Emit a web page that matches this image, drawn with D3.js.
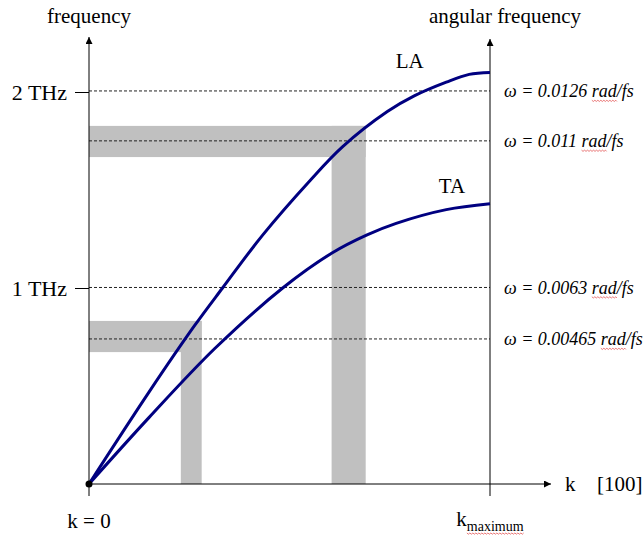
<!DOCTYPE html>
<html lang="en">
<head>
<meta charset="UTF-8">
<title>Phonon dispersion</title>
<script src="https://cdn.jsdelivr.net/npm/d3@7"></script>
<style>
  body { margin: 0; background: #fff; }
</style>
</head>
<body>
<svg id="chart"></svg>
<script>
// k in units of k_maximum, frequency in THz
const kLA = [0, 0.15, 0.264, 0.333, 0.433, 0.552, 0.632, 0.744, 0.811, 0.891, 0.948, 1.0];
const fLA = [0, 0.47, 0.81, 1.0, 1.27, 1.55, 1.72, 1.90, 1.98, 2.05, 2.09, 2.10];
const kTA = [0, 0.15, 0.313, 0.483, 0.607, 0.692, 0.766, 0.891, 1.0];
const fTA = [0, 0.34, 0.69, 1.0, 1.18, 1.27, 1.33, 1.40, 1.43];

const seriesNames = ["LA", "TA"];
const labelK = [0.80, 0.905];
const labelF = [2.16, 1.52];

// angular frequency reference lines (rad/fs)
const omegas = [0.0126, 0.011, 0.0063, 0.00465];
const omegaLabels = ["0.0126", "0.011", "0.0063", "0.00465"];

// left axis ticks
const freqTicks = [1, 2];

// highlighted bands
const bandF = [[0.673, 0.832], [1.668, 1.827]];
const bandK = [[0.229, 0.281], [0.605, 0.690]];

const SERIF = "'Liberation Serif', 'Times New Roman', Tinos, 'DejaVu Serif', serif";
const W = 644, H = 536;
const svg = d3.select("#chart").attr("width", W).attr("height", H)
    .style("font-family", SERIF);

const x = d3.scaleLinear().domain([0, 1]).range([89, 490]);
const y = d3.scaleLinear().domain([0, 2]).range([484, 92]);

const defs = svg.append("defs");
defs.append("marker")
    .attr("id", "arrow")
    .attr("viewBox", "0 0 10 10")
    .attr("refX", 10).attr("refY", 5)
    .attr("markerWidth", 9).attr("markerHeight", 7)
    .attr("markerUnits", "userSpaceOnUse")
    .attr("orient", "auto")
    .append("path")
    .attr("d", "M0,0 L10,5 L0,10 Z")
    .attr("fill", "#000");

// gray bands
bandF.forEach((bf, i) => {
    const bk = bandK[i];
    svg.append("rect")
        .attr("x", x(0)).attr("y", y(bf[1]))
        .attr("width", x(bk[1]) - x(0))
        .attr("height", y(bf[0]) - y(bf[1]))
        .attr("fill", "#c0c0c0");
    svg.append("rect")
        .attr("x", x(bk[0])).attr("y", y(bf[1]))
        .attr("width", x(bk[1]) - x(bk[0]))
        .attr("height", y(0) - y(bf[1]))
        .attr("fill", "#c0c0c0");
});

// dashed reference lines
const omegaF = omegas.map(w => w / (2 * Math.PI) * 1000);
svg.selectAll("line.ref")
    .data(omegaF)
    .join("line")
    .attr("class", "ref")
    .attr("x1", x(0)).attr("x2", x(1))
    .attr("y1", d => y(d)).attr("y2", d => y(d))
    .attr("stroke", "#222")
    .attr("stroke-width", 1)
    .attr("stroke-dasharray", "3,2");

// left axis ticks
const yAxis = svg.append("g")
    .attr("transform", `translate(${x(0)},0)`)
    .call(d3.axisLeft(y).tickValues(freqTicks).tickSize(14).tickPadding(8)
        .tickFormat(d => d + " THz"));
yAxis.attr("font-family", null);
yAxis.select(".domain").remove();
yAxis.selectAll("line").attr("stroke", "#000");
yAxis.selectAll("text")
    .style("font-family", SERIF)
    .attr("font-size", 22)
    .attr("fill", "#000");

// axes lines
svg.append("line")
    .attr("x1", x(0)).attr("x2", x(0))
    .attr("y1", y(0) + 12).attr("y2", 37)
    .attr("stroke", "#000").attr("stroke-width", 1)
    .attr("marker-end", "url(#arrow)");
svg.append("line")
    .attr("x1", x(1)).attr("x2", x(1))
    .attr("y1", y(0) + 12).attr("y2", 39)
    .attr("stroke", "#000").attr("stroke-width", 1)
    .attr("marker-end", "url(#arrow)");
svg.append("line")
    .attr("x1", x(0)).attr("x2", 551)
    .attr("y1", y(0)).attr("y2", y(0))
    .attr("stroke", "#000").attr("stroke-width", 1)
    .attr("marker-end", "url(#arrow)");

// dispersion curves
const line = d3.line()
    .x(d => x(d[0]))
    .y(d => y(d[1]))
    .curve(d3.curveCatmullRom.alpha(0.5));

const curves = [d3.zip(kLA, fLA), d3.zip(kTA, fTA)];
svg.selectAll("path.curve")
    .data(curves)
    .join("path")
    .attr("class", "curve")
    .attr("d", line)
    .attr("fill", "none")
    .attr("stroke", "#000080")
    .attr("stroke-width", 3);

svg.append("circle")
    .attr("cx", x(0)).attr("cy", y(0)).attr("r", 3.5)
    .attr("fill", "#000");

// curve labels
svg.selectAll("text.series")
    .data(seriesNames)
    .join("text")
    .attr("class", "series")
    .attr("x", (d, i) => x(labelK[i]))
    .attr("y", (d, i) => y(labelF[i]))
    .attr("text-anchor", "middle")
    .attr("dy", "0.35em")
    .attr("font-size", 21)
    .text(d => d);

// red squiggle under a range of characters, like a spell-check mark
function squiggle(textNode, from, to, dy) {
    const x0 = textNode.getStartPositionOfChar(from).x;
    const x1 = textNode.getEndPositionOfChar(to).x;
    const yb = textNode.getStartPositionOfChar(from).y + dy;
    let d = `M${x0},${yb}`;
    for (let px = x0, k = 0; px < x1; px += 1.5, k++) {
        d += ` L${Math.min(px + 1.5, x1)},${yb + (k % 2 ? 0 : 1.2)}`;
    }
    svg.append("path").attr("d", d)
        .attr("fill", "none").attr("stroke", "#e04040").attr("stroke-width", 0.7);
}

// omega labels
svg.selectAll("text.omega")
    .data(omegaF)
    .join("text")
    .attr("class", "omega")
    .attr("x", 504)
    .attr("y", d => y(d))
    .attr("dy", "0.35em")
    .attr("font-size", 18)
    .attr("font-style", "italic")
    .text((d, i) => "\u03c9 = " + omegaLabels[i] + " rad/fs")
    .each(function(d, i) {
        const s = "\u03c9 = " + omegaLabels[i] + " ";
        squiggle(this, s.length, s.length + 2, 3);
    });

// axis titles
svg.append("text")
    .attr("x", x(0)).attr("y", 23)
    .attr("text-anchor", "middle")
    .attr("font-size", 21)
    .text("frequency");
svg.append("text")
    .attr("x", x(1) + 15).attr("y", 23)
    .attr("text-anchor", "middle")
    .attr("font-size", 21)
    .text("angular frequency");

// x axis labels
svg.append("text")
    .attr("x", 565).attr("y", y(0))
    .attr("dy", "0.35em")
    .attr("font-size", 21)
    .text("k");
svg.append("text")
    .attr("x", 597).attr("y", y(0))
    .attr("dy", "0.35em")
    .attr("font-size", 21)
    .text("[100]");

svg.append("text")
    .attr("x", x(0)).attr("y", 528)
    .attr("text-anchor", "middle")
    .attr("font-size", 21)
    .text("k = 0");

const km = svg.append("text")
    .attr("x", x(1)).attr("y", 526)
    .attr("text-anchor", "middle")
    .attr("font-size", 21);
km.append("tspan").text("k");
km.append("tspan")
    .attr("font-size", 14)
    .attr("dy", 5)
    .text("maximum");
squiggle(km.node(), 1, 7, 2);
</script>
</body>
</html>
